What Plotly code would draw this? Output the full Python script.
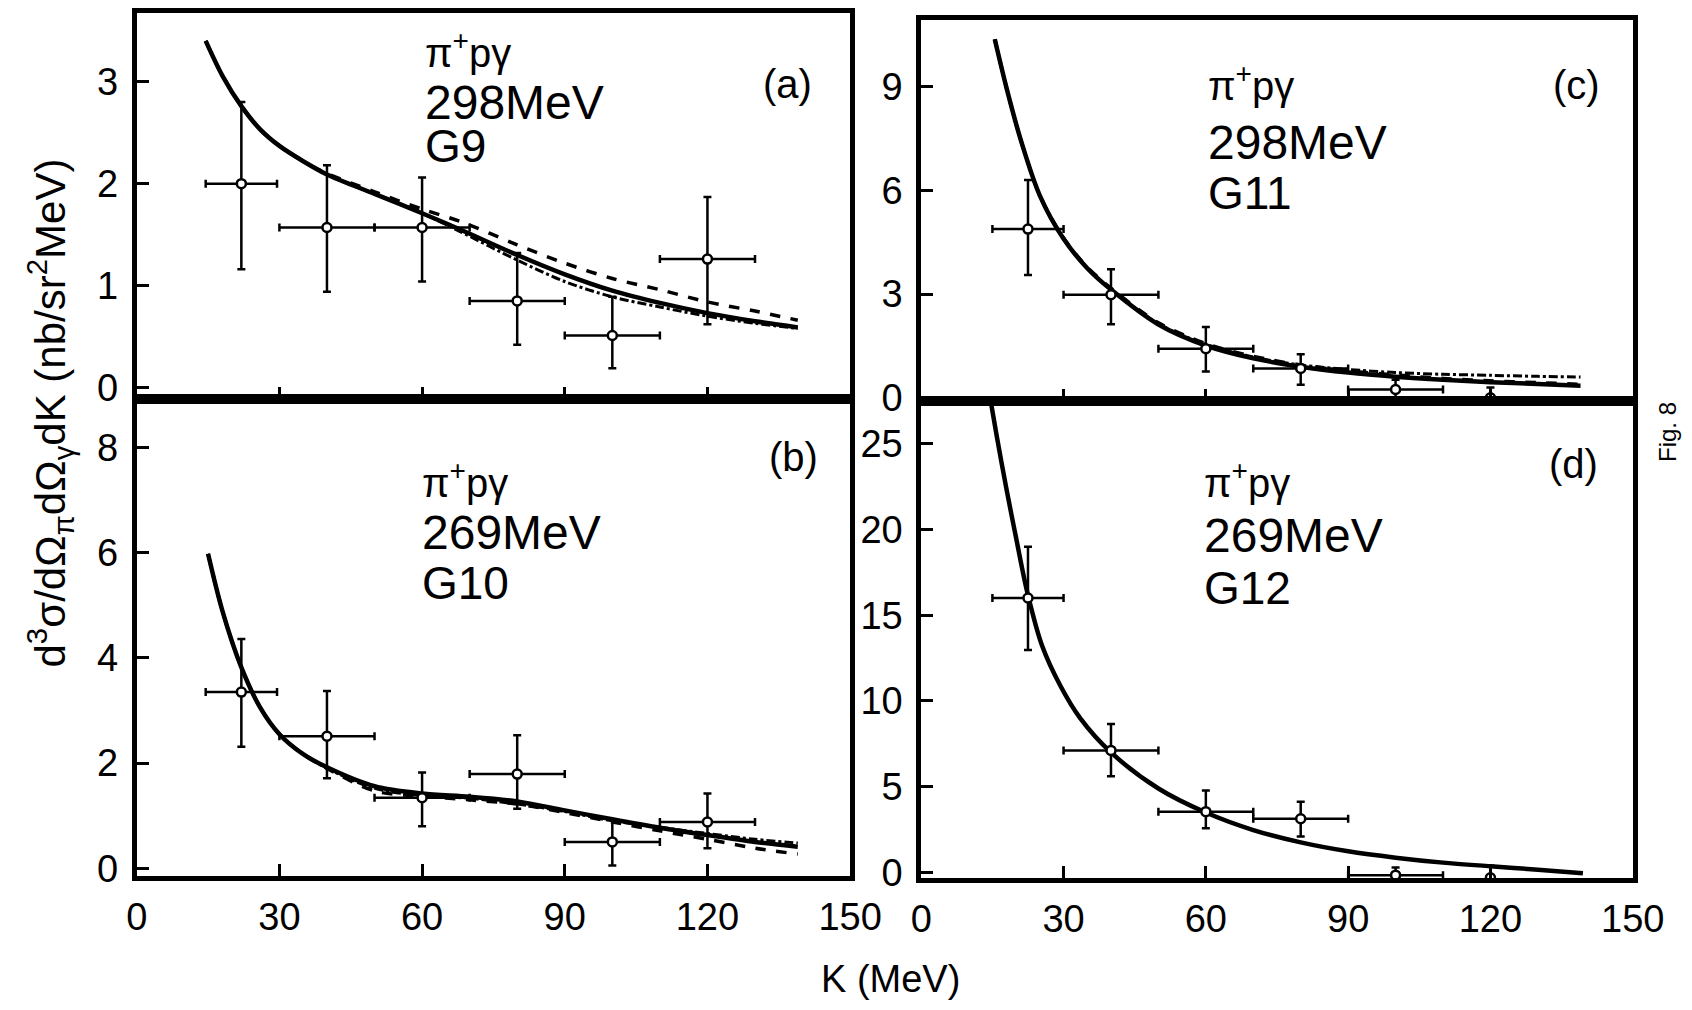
import plotly.graph_objects as go

W, H = 1692, 1010

# ---------------- data ----------------
# Panel (a)  pi+ p gamma, 298 MeV, G9
k_pts_a = [22, 40, 60, 80, 100, 120]
sig_a = [2.0, 1.57, 1.57, 0.85, 0.51, 1.26]
dk_a = [7.5, 10, 10, 10, 10, 10]
err_up_a = [0.80, 0.61, 0.49, 0.47, 0.38, 0.61]
err_dn_a = [0.84, 0.63, 0.53, 0.43, 0.32, 0.64]
k_curve_a = [14.5, 18, 22, 26, 30, 35, 40, 50, 60, 68, 80, 90, 100, 110, 120, 130, 139]
solid_a = [3.40, 3.06, 2.76, 2.53, 2.37, 2.22, 2.09, 1.90, 1.71, 1.55, 1.30, 1.11, 0.95, 0.83, 0.73, 0.65, 0.59]
dashed_a = [3.40, 3.06, 2.76, 2.53, 2.37, 2.22, 2.10, 1.92, 1.75, 1.63, 1.40, 1.22, 1.07, 0.96, 0.84, 0.75, 0.66]
dashdot_a = [3.40, 3.06, 2.76, 2.53, 2.37, 2.22, 2.09, 1.90, 1.71, 1.53, 1.25, 1.04, 0.89, 0.79, 0.70, 0.63, 0.58]

# Panel (b)  pi+ p gamma, 269 MeV, G10
k_pts_b = [22, 40, 60, 80, 100, 120]
sig_b = [3.35, 2.51, 1.34, 1.79, 0.50, 0.88]
dk_b = [7.5, 10, 10, 10, 10, 10]
err_up_b = [1.01, 0.86, 0.48, 0.74, 0.42, 0.54]
err_dn_b = [1.04, 0.80, 0.54, 0.66, 0.45, 0.50]
k_curve_b = [15, 18, 22, 26, 30, 35, 40, 50, 60, 70, 80, 90, 100, 110, 120, 130, 139]
solid_b = [5.98, 4.90, 3.82, 3.05, 2.55, 2.17, 1.92, 1.56, 1.42, 1.36, 1.27, 1.10, 0.93, 0.77, 0.63, 0.50, 0.41]
dashed_b = [5.98, 4.90, 3.82, 3.05, 2.55, 2.17, 1.90, 1.47, 1.37, 1.30, 1.22, 1.06, 0.88, 0.71, 0.55, 0.38, 0.27]
dashdot_b = [5.98, 4.90, 3.82, 3.05, 2.55, 2.17, 1.90, 1.52, 1.38, 1.33, 1.22, 1.08, 0.90, 0.78, 0.66, 0.55, 0.48]

# Panel (c)  pi+ p gamma, 298 MeV, G11
k_pts_c = [22.5, 40, 60, 80, 100, 120]
sig_c = [4.88, 2.98, 1.42, 0.85, 0.24, 0.0]
dk_c = [7.5, 10, 10, 10, 10, 0]
err_up_c = [1.42, 0.74, 0.63, 0.41, 0.28, 0.30]
err_dn_c = [1.33, 0.85, 0.66, 0.47, 0.24, 0.0]
k_curve_c = [15.5, 18, 21, 25, 30, 35, 40, 50, 60, 70, 80, 90, 100, 110, 120, 130, 139]
solid_c = [10.37, 8.95, 7.45, 5.85, 4.60, 3.75, 3.13, 2.12, 1.51, 1.14, 0.90, 0.73, 0.61, 0.52, 0.45, 0.40, 0.35]
dashed_c = [10.37, 8.95, 7.45, 5.85, 4.62, 3.78, 3.17, 2.17, 1.57, 1.20, 0.95, 0.78, 0.66, 0.56, 0.49, 0.44, 0.39]
dashdot_c = [10.37, 8.95, 7.45, 5.85, 4.60, 3.75, 3.13, 2.14, 1.55, 1.18, 0.95, 0.82, 0.73, 0.68, 0.65, 0.62, 0.60]

# Panel (d)  pi+ p gamma, 269 MeV, G12
k_pts_d = [22.5, 40, 60, 80, 100, 120]
sig_d = [16.0, 7.12, 3.55, 3.14, -0.15, -0.3]
dk_d = [7.5, 10, 10, 10, 10, 0]
err_up_d = [2.99, 1.54, 1.23, 0.99, 0.45, 0.70]
err_dn_d = [3.03, 1.51, 0.97, 1.04, 0.45, 0.30]
k_curve_d = [14.0, 16, 18, 20, 22.3, 25.5, 29.3, 33.5, 40, 50, 60, 70, 80, 90, 100, 110, 120, 130, 139.5]
solid_d = [28.5, 25.3, 22.3, 19.5, 16.4, 13.2, 10.9, 9.0, 7.0, 4.9, 3.5, 2.48, 1.76, 1.24, 0.87, 0.58, 0.37, 0.17, -0.04]

x_ticks = [0, 30, 60, 90, 120, 150]
y_ticks_a = [0, 1, 2, 3]
y_ticks_b = [0, 2, 4, 6, 8]
y_ticks_c = [0, 3, 6, 9]
y_ticks_d = [0, 5, 10, 15, 20, 25]

labels_a = ["π<sup>+</sup>pγ", "298MeV", "G9", "(a)"]
labels_b = ["π<sup>+</sup>pγ", "269MeV", "G10", "(b)"]
labels_c = ["π<sup>+</sup>pγ", "298MeV", "G11", "(c)"]
labels_d = ["π<sup>+</sup>pγ", "269MeV", "G12", "(d)"]

# ---------------- layout helpers ----------------
def px(x):
    return x / W

def py(y):
    return 1 - y / H

FONT = "Liberation Sans, Arial, sans-serif"
BLACK = "#000000"

fig = go.Figure()

panels = [
    ("a", "x", "y", (129, 861), (13, 406), [-0.11, 3.676], y_ticks_a, False),
    ("b", "x2", "y2", (129, 861), (406, 892), [-0.15, 8.93], y_ticks_b, True),
    ("c", "x3", "y3", (934, 1664), (20, 408), [-0.085, 10.94], y_ticks_c, False),
    ("d", "x4", "y4", (934, 1664), (408, 894), [-0.32, 27.5], y_ticks_d, True),
]

curves = {
    "a": (k_curve_a, [solid_a, dashed_a, dashdot_a]),
    "b": (k_curve_b, [solid_b, dashed_b, dashdot_b]),
    "c": (k_curve_c, [solid_c, dashed_c, dashdot_c]),
    "d": (k_curve_d, [solid_d]),
}
points = {
    "a": (k_pts_a, sig_a, dk_a, err_up_a, err_dn_a),
    "b": (k_pts_b, sig_b, dk_b, err_up_b, err_dn_b),
    "c": (k_pts_c, sig_c, dk_c, err_up_c, err_dn_c),
    "d": (k_pts_d, sig_d, dk_d, err_up_d, err_dn_d),
}
line_styles = [("solid", 4.5), ("dash", 3.5), ("dashdot", 3)]

for name, xa, ya, xdom, ydom, yrange, yticks, showx in panels:
    kc, series = curves[name]
    for (dash, width), vals in zip(line_styles, series):
        fig.add_trace(go.Scatter(
            x=kc, y=vals, mode="lines", xaxis=xa, yaxis=ya,
            line=dict(color=BLACK, width=width, dash=dash, shape="spline", smoothing=0.9),
            showlegend=False, hoverinfo="skip"))
    kp, sv, dk, eu, ed = points[name]
    fig.add_trace(go.Scatter(
        x=kp, y=sv, mode="markers", xaxis=xa, yaxis=ya,
        marker=dict(symbol="circle", size=9, color="white", line=dict(color=BLACK, width=2.5)),
        error_x=dict(type="data", array=dk, symmetric=True, color=BLACK, thickness=2.5, width=4),
        error_y=dict(type="data", array=eu, arrayminus=ed, symmetric=False, color=BLACK, thickness=2.5, width=4),
        showlegend=False))

    xkey = "xaxis" if xa == "x" else "xaxis" + xa[1:]
    ykey = "yaxis" if ya == "y" else "yaxis" + ya[1:]
    fig.layout[xkey] = dict(
        domain=[px(xdom[0]), px(xdom[1])], anchor=ya, range=[0, 150],
        tickvals=x_ticks, ticktext=[str(v) for v in x_ticks],
        showticklabels=showx, ticks="inside", ticklen=12, tickwidth=3, tickcolor=BLACK,
        showline=True, mirror=True, linewidth=5, linecolor=BLACK,
        showgrid=False, zeroline=False, fixedrange=True,
        tickfont=dict(family=FONT, size=38, color=BLACK), ticklabelstandoff=3)
    fig.layout[ykey] = dict(
        domain=[py(ydom[1]), py(ydom[0])], anchor=xa, range=yrange,
        tickvals=yticks, ticktext=[str(v) for v in yticks],
        ticks="inside", ticklen=12, tickwidth=3, tickcolor=BLACK,
        showline=True, mirror=True, linewidth=5, linecolor=BLACK,
        showgrid=False, zeroline=False, fixedrange=True,
        tickfont=dict(family=FONT, size=38, color=BLACK), ticklabelstandoff=6)

annotations = []
text_pos = [
    (labels_a, 423, [51, 104, 149], (797, 86)),
    (labels_b, 420, [489, 542, 594], (803, 465)),
    (labels_c, 1226, [85, 145, 196], (1606, 87)),
    (labels_d, 1222, [489, 545, 599], (1603, 472)),
]
for labels, x0, ys, tag in text_pos:
    sizes = [40, 48, 46]
    for txt, yy, sz in zip(labels[:3], ys, sizes):
        annotations.append(dict(text=txt, x=px(x0), y=py(yy), xref="paper", yref="paper",
                                xanchor="left", yanchor="middle", showarrow=False,
                                font=dict(family=FONT, size=sz, color=BLACK)))
    annotations.append(dict(text=labels[3], x=px(tag[0]), y=py(tag[1]), xref="paper", yref="paper",
                            xanchor="center", yanchor="middle", showarrow=False,
                            font=dict(family=FONT, size=40, color=BLACK)))

annotations.append(dict(
    text="d<sup>3</sup>σ/dΩ<sub>π</sub>dΩ<sub>γ</sub>dK (nb/sr<sup>2</sup>MeV)",
    x=px(40), y=py(420), xref="paper", yref="paper", textangle=-90,
    xanchor="center", yanchor="middle", showarrow=False,
    font=dict(family=FONT, size=42, color=BLACK)))
annotations.append(dict(
    text="K (MeV)", x=px(902), y=py(997), xref="paper", yref="paper",
    xanchor="center", yanchor="middle", showarrow=False,
    font=dict(family=FONT, size=38, color=BLACK)))
annotations.append(dict(
    text="Fig. 8", x=px(1699), y=py(440), xref="paper", yref="paper", textangle=-90,
    xanchor="center", yanchor="middle", showarrow=False,
    font=dict(family=FONT, size=24, color=BLACK)))

fig.update_layout(
    width=W, height=H, autosize=False,
    margin=dict(l=0, r=0, t=0, b=0),
    paper_bgcolor="white", plot_bgcolor="white",
    annotations=annotations, showlegend=False)

fig.write_html("out.html", config={"displayModeBar": False},
               post_script="document.body.style.margin='0';document.body.style.overflow='hidden';")
